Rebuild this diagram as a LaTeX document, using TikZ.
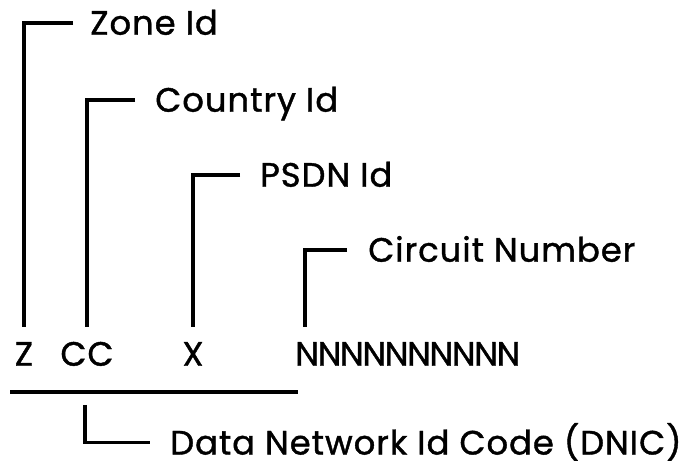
\documentclass[tikz,border=0pt]{standalone}
\usepackage{fontspec}
\setmainfont{Poppins}[LetterSpace=3, FakeBold=1.2]
\usepackage{tikz}
\usetikzlibrary{positioning, calc}
\definecolor{PlotBlack}{HTML}{000000}
\definecolor{PlotWhite}{HTML}{ffffff}
\tikzset{
    % Label text, boxes sized to the capitals
    field label/.style={
        inner sep=0pt,
        text height=0.6cm,
        text depth=0pt,
        anchor=south west,
        font=\fontsize{24}{28}\selectfont,
        text=PlotBlack
    },
    field char/.style={
        field label,
        anchor=south
    },
    bracket style/.style={
        draw=PlotBlack,
        line width=2.6pt
    }
}
\begin{document}
\begin{tikzpicture}
        \useasboundingbox[fill=PlotWhite] (0,0) rectangle (17.25,11.7);

        % Address digits
        \node[field char] (zch) at (0.6, 2.55) {Z};
        \node[field char] (cch) at (2.175, 2.55) {CC};
        \node[field char] (xch) at (4.825, 2.55) {X};
        \node[field label] (nch) at (7.375, 2.55) {\addfontfeature{LetterSpace=-4}NNNNNNNNNN};

        % Labels
        \node[field label] (zone) at (2.25, 10.825) {Zone Id};
        \node[field label] (country) at (3.875, 8.9) {Country Id};
        \node[field label] (psdn) at (6.5, 7.025) {PSDN Id};
        \node[field label] (circuit) at (9.2, 5.15) {Circuit Number};
        \node[field label] (dnic) at (4.25, 0.33) {Data Network Id Code (DNIC)};

        % Brackets
        \draw[bracket style, shorten <=0.425cm, shorten >=0.35cm] (zone.west) -| (zch.north);
        \draw[bracket style, shorten <=0.5cm, shorten >=0.35cm] (country.west) -| (cch.north);
        \draw[bracket style, shorten <=0.5cm, shorten >=0.35cm] (psdn.west) -| (xch.north);
        \draw[bracket style, shorten <=0.525cm, shorten >=0.35cm] (circuit.west) -| ([xshift=0.25cm]nch.north west);

        % DNIC underline and bracket
        \coordinate (dnicleft) at (0.25, 1.9);
        \coordinate (dnicright) at (7.45, 1.9);
        \coordinate (dnictop) at (2.125, 1.575);
        \draw[bracket style] (dnicleft) -- (dnicright);
        \draw[bracket style, shorten >=0.5cm] (dnictop) |- (dnic.west);
    \end{tikzpicture}
\end{document}
